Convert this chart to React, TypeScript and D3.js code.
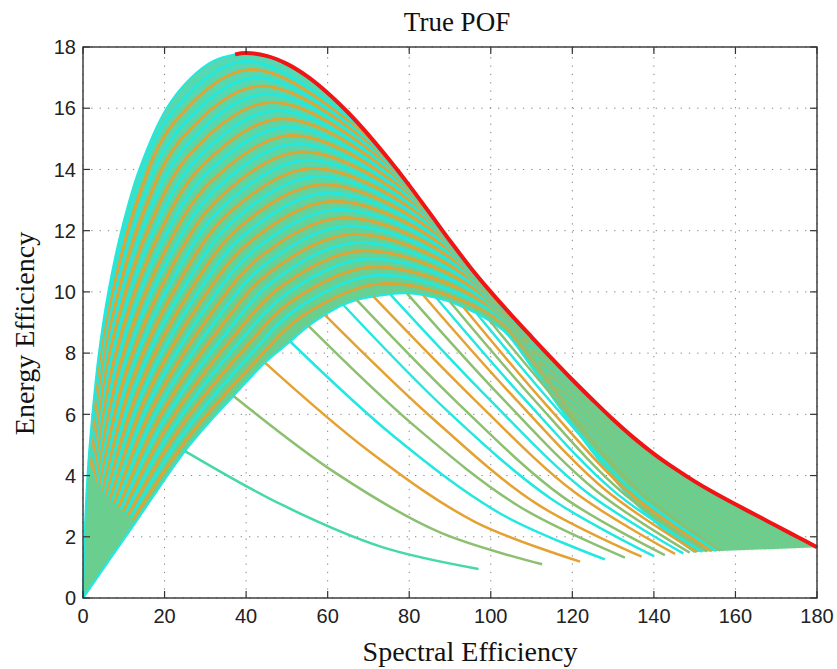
import React from "react";
import * as d3 from "d3";

// ---------- axes ----------
const xTicks = [0, 20, 40, 60, 80, 100, 120, 140, 160, 180];
const yTicks = [0, 2, 4, 6, 8, 10, 12, 14, 16, 18];

// ---------- outer (rising) boundary of the curve family ----------
const outerRiseX = [0, 0.4, 1.1, 2.3, 3.9, 6.2, 9.4, 13.8, 20.5, 26.5, 32.0];
const outerRiseY = [0, 2, 4, 6, 8, 10, 12, 14, 16, 17, 17.55];

// ---------- True POF (red front) ----------
const frontX = [37.3, 40, 45, 50, 55, 60, 65, 70, 75, 80, 85, 90, 95, 100, 105, 110, 115, 120, 125, 130, 135, 140, 145, 150, 155, 160, 165, 170, 175, 180];
const frontY = [17.76, 17.8, 17.71, 17.45, 17.04, 16.5, 15.86, 15.13, 14.33, 13.48, 12.58, 11.67, 10.8, 10.0, 9.25, 8.53, 7.82, 7.13, 6.47, 5.83, 5.24, 4.71, 4.24, 3.81, 3.42, 3.06, 2.71, 2.36, 2.01, 1.66];

// ---------- innermost curve (lower boundary of the dense band) ----------
const innerX = [0, 12.5, 25, 31, 36.9, 44.6, 50.8, 55.3, 59.3, 63.8, 67.1, 71.2, 75.3, 79.4, 83.4, 86.7, 90, 93.3, 96.5, 99.8, 104, 110.5, 117, 124.5, 133, 141.5, 150];
const innerY = [0, 2.4, 4.8, 5.75, 6.6, 7.69, 8.38, 8.89, 9.25, 9.58, 9.74, 9.85, 9.93, 9.96, 9.9, 9.8, 9.68, 9.5, 9.3, 9.05, 8.62, 7.45, 6.2, 4.85, 3.45, 2.35, 1.5];

// ---------- intermediate curves (estimated) ----------
const riseLevels = [0.25, 0.5, 0.75, 0.9];
const arcPeakX = [39.3, 40.6, 41.8, 43.1, 44.4, 45.7, 46.9, 48.2, 49.5, 50.8, 52.0, 53.3, 54.6, 55.9, 57.1, 58.4, 59.7, 61.0, 62.2, 63.5, 64.8, 66.1, 67.3, 68.6, 69.9, 71.2, 72.4, 73.7];
const arcPeakY = [17.53, 17.26, 16.99, 16.72, 16.46, 16.19, 15.92, 15.65, 15.38, 15.11, 14.84, 14.57, 14.30, 14.03, 13.77, 13.50, 13.23, 12.96, 12.69, 12.42, 12.15, 11.88, 11.61, 11.34, 11.08, 10.81, 10.54, 10.27];
const arcRise25 = [1.5, 1.6, 1.75, 1.9, 2.1, 2.3, 2.55, 2.8, 3.1, 3.4, 3.72, 4.08, 4.47, 4.88, 5.31, 5.76, 6.22, 6.70, 7.20, 7.71, 8.24, 8.78, 9.34, 9.92, 10.51, 11.11, 11.72, 12.36];
const arcRise50 = [5.1, 5.35, 5.65, 5.95, 6.3, 6.7, 7.2, 7.74, 8.35, 8.99, 9.67, 10.38, 11.11, 11.88, 12.67, 13.49, 14.34, 15.21, 16.11, 17.03, 17.97, 18.94, 19.93, 20.94, 21.97, 23.02, 24.09, 25.19];
const arcRise75 = [12.69, 13.27, 13.93, 14.68, 15.47, 16.32, 17.22, 18.15, 19.12, 20.12, 21.15, 22.21, 23.30, 24.41, 25.54, 26.70, 27.88, 29.08, 30.31, 31.55, 32.81, 34.09, 35.38, 36.70, 38.03, 39.37, 40.73, 42.11];
const arcRise90 = [21.36, 22.35, 23.38, 24.46, 25.56, 26.69, 27.83, 28.99, 30.16, 31.35, 32.55, 33.76, 34.98, 36.21, 37.45, 38.70, 39.95, 41.21, 42.48, 43.76, 45.04, 46.33, 47.62, 48.92, 50.23, 51.54, 52.85, 54.17];
const arcFall90 = [64.2, 65.5, 66.9, 68.2, 69.5, 70.8, 72.2, 73.5, 74.8, 76.1, 77.5, 78.8, 80.1, 81.4, 82.8, 84.1, 85.4, 86.7, 88.1, 89.4, 90.7, 92.0, 93.4, 94.7, 96.0, 97.3, 98.7, 100.0];
const arcFall75 = [81.0, 81.9, 82.8, 83.8, 84.9, 86.0, 87.1, 88.5, 89.6, 90.8, 91.9, 92.9, 94.0, 95.0, 96.0, 97.1, 98.1, 99.1, 100.2, 101.2, 102.2, 103.3, 104.3, 105.3, 106.4, 107.9, 109.2, 110.5];
const arcFall50 = [107.7, 108.3, 108.9, 109.4, 110.2, 111.0, 111.6, 112.2, 112.8, 113.4, 113.9, 114.5, 115.1, 115.7, 116.3, 116.9, 117.5, 118.1, 118.6, 119.2, 119.8, 120.4, 121.0, 121.6, 122.2, 123.2, 124.1, 124.9];
const arcFall25 = [142.3, 142.3, 142.3, 142.3, 142.3, 142.4, 142.5, 142.5, 142.5, 142.5, 142.4, 142.4, 142.3, 142.3, 142.2, 142.2, 142.1, 142.1, 142.0, 142.0, 141.9, 141.9, 141.8, 141.8, 141.7, 141.7, 141.6, 141.6];
const arcEndX = [179.0, 177.9, 176.9, 175.9, 174.8, 173.8, 172.8, 171.7, 170.7, 169.7, 168.6, 167.6, 166.6, 165.5, 164.5, 163.4, 162.4, 161.4, 160.3, 159.3, 158.3, 157.2, 156.2, 155.2, 154.1, 153.1, 152.1, 151.0];
const arcEndY = [1.64, 1.64, 1.63, 1.63, 1.62, 1.62, 1.61, 1.61, 1.60, 1.60, 1.59, 1.59, 1.58, 1.58, 1.57, 1.57, 1.56, 1.56, 1.55, 1.55, 1.54, 1.54, 1.53, 1.53, 1.52, 1.52, 1.51, 1.51];

// ---------- tails leaving the lower boundary ----------
const tailStartX = [25.0, 36.9, 44.6, 50.8, 55.3, 59.3, 63.8, 67.1, 71.2, 75.3, 79.4, 83.4, 86.7, 90.0, 93.3, 96.5, 99.8];
const tailStartY = [4.80, 6.60, 7.69, 8.38, 8.89, 9.25, 9.58, 9.74, 9.85, 9.93, 9.96, 9.90, 9.80, 9.68, 9.50, 9.30, 9.05];
const tailMid1X = [49.0, 62.1, 70.4, 76.5, 81.2, 85.2, 89.2, 92.3, 95.9, 99.3, 102.5, 105.8, 108.4, 111.0, 113.6, 116.1, 118.6];
const tailMid1Y = [3.03, 4.07, 4.77, 5.25, 5.63, 5.93, 6.13, 6.32, 6.49, 6.54, 6.57, 6.54, 6.48, 6.42, 6.31, 6.20, 6.07];
const tailMid2X = [73.0, 87.4, 96.1, 102.3, 107.0, 111.1, 114.6, 117.5, 120.5, 123.2, 125.7, 128.2, 130.1, 132.0, 133.9, 135.7, 137.5];
const tailMid2Y = [1.68, 2.15, 2.49, 2.76, 2.99, 3.09, 3.26, 3.32, 3.46, 3.49, 3.52, 3.52, 3.50, 3.48, 3.44, 3.40, 3.36];
const tailEndX = [97.0, 112.6, 121.9, 128.0, 132.9, 137.0, 140.0, 142.7, 145.2, 147.2, 148.8, 150.5, 151.8, 153.0, 154.2, 155.3, 156.3];
const tailEndY = [0.95, 1.10, 1.19, 1.26, 1.32, 1.35, 1.37, 1.40, 1.44, 1.46, 1.48, 1.50, 1.51, 1.52, 1.53, 1.54, 1.55];

type P = [number, number];
const zip = (xs: number[], ys: number[]): P[] => xs.map((v, i) => [v, ys[i]] as P);

export default function App() {
  const W = 837, H = 669;
  const L = 83, R = 817, T = 47, B = 598;
  const x = d3.scaleLinear().domain([0, 180]).range([L, R]);
  const y = d3.scaleLinear().domain([0, 18]).range([B, T]);
  const line = d3
    .line<P>()
    .x((d) => x(d[0]))
    .y((d) => y(d[1]))
    .curve(d3.curveCatmullRom.alpha(0.5));

  const CYAN = "#22e8e0";
  const ORANGE = "#e3a232";
  const OLIVE = "#8cc070";
  const TEAL = "#45d9a8";

  const outerPts: P[] = [...zip(outerRiseX, outerRiseY), ...zip(frontX, frontY)];
  const innerPts: P[] = zip(innerX, innerY);
  const fillPath =
    (line(outerPts) || "") + (line([...innerPts].reverse()) || "").replace(/^M/, "L") + "Z";

  const arcs: P[][] = arcPeakX.map((px, i) => {
    const py = arcPeakY[i];
    return [
      [arcRise25[i], riseLevels[0] * py],
      [arcRise50[i], riseLevels[1] * py],
      [arcRise75[i], riseLevels[2] * py],
      [arcRise90[i], riseLevels[3] * py],
      [px, py],
      [arcFall90[i], riseLevels[3] * py],
      [arcFall75[i], riseLevels[2] * py],
      [arcFall50[i], riseLevels[1] * py],
      [arcFall25[i], riseLevels[0] * py],
      [arcEndX[i], arcEndY[i]],
    ] as P[];
  });

  const tails: P[][] = tailStartX.map((sx, i) => [
    [sx, tailStartY[i]],
    [tailMid1X[i], tailMid1Y[i]],
    [tailMid2X[i], tailMid2Y[i]],
    [tailEndX[i], tailEndY[i]],
  ] as P[]);
  const tailCycle = [OLIVE, ORANGE, CYAN];

  const sans = "'Liberation Sans', Arial, Helvetica, sans-serif";
  const serif = "'Liberation Serif', 'Times New Roman', Times, serif";

  return (
    <svg
      width={W}
      height={H}
      viewBox={`0 0 ${W} ${H}`}
      style={{ position: "absolute", left: 0, top: 0, background: "#fff" }}
    >
      <defs>
        <linearGradient id="band" gradientUnits="userSpaceOnUse" x1={0} y1={y(17.5)} x2={0} y2={y(9)}>
          <stop offset="0" stopColor="#55d9b2" />
          <stop offset="1" stopColor="#6acf8e" />
        </linearGradient>
        <linearGradient id="fadeGrad" gradientUnits="userSpaceOnUse" x1={x(92)} y1={0} x2={x(150)} y2={0}>
          <stop offset="0" stopColor="#fff" />
          <stop offset="0.55" stopColor="#555" />
          <stop offset="1" stopColor="#2a2a2a" />
        </linearGradient>
        <mask id="fade" maskUnits="userSpaceOnUse" x={0} y={0} width={W} height={H}>
          <rect x={0} y={0} width={W} height={H} fill="url(#fadeGrad)" />
        </mask>
      </defs>
      <rect x={0} y={0} width={W} height={H} fill="#fff" />
      {/* grid */}
      <g stroke="#858585" strokeWidth={1} strokeDasharray="1.3 7">
        {xTicks.map((t) => (
          <line key={"gx" + t} x1={x(t)} x2={x(t)} y1={y(0)} y2={y(18)} />
        ))}
        {yTicks.map((t) => (
          <line key={"gy" + t} x1={x(0)} x2={x(180)} y1={y(t)} y2={y(t)} />
        ))}
      </g>

      {/* dense band */}
      <path d={fillPath} fill="url(#band)" stroke="none" />
      <g fill="none" strokeOpacity={0.95} mask="url(#fade)">
        {arcs.map((pts, i) => (
          <path
            key={"a" + i}
            d={line(pts) || ""}
            stroke={i % 2 === 0 ? CYAN : ORANGE}
            strokeWidth={i % 2 === 0 ? 3 : 3}
          />
        ))}
      </g>
      <path d={line(outerPts) || ""} fill="none" stroke={CYAN} strokeWidth={2} />
      <path d={line(innerPts) || ""} fill="none" stroke={CYAN} strokeWidth={2.2} />

      {/* tails */}
      <g fill="none" strokeWidth={2.5}>
        {tails.map((pts, i) => (
          <path
            key={"t" + i}
            d={line(pts) || ""}
            stroke={i === 0 ? TEAL : tailCycle[(i - 1) % 3]}
          />
        ))}
      </g>

      {/* True POF */}
      <path d={line(zip(frontX, frontY)) || ""} fill="none" stroke="#f01414" strokeWidth={4} />

      {/* box + ticks */}
      <rect x={L} y={T} width={R - L} height={B - T} fill="none" stroke="#333" strokeWidth={1.4} />
      <g stroke="#333" strokeWidth={1.2}>
        {xTicks.map((t) => (
          <g key={"tx" + t}>
            <line x1={x(t)} x2={x(t)} y1={B} y2={B - 7} />
            <line x1={x(t)} x2={x(t)} y1={T} y2={T + 7} />
          </g>
        ))}
        {yTicks.map((t) => (
          <g key={"ty" + t}>
            <line x1={L} x2={L + 7} y1={y(t)} y2={y(t)} />
            <line x1={R} x2={R - 7} y1={y(t)} y2={y(t)} />
          </g>
        ))}
      </g>

      {/* tick labels */}
      <g fontFamily={sans} fontSize={20} fill="#222">
        {xTicks.map((t) => (
          <text key={"lx" + t} x={x(t)} y={623} textAnchor="middle">
            {t}
          </text>
        ))}
        {yTicks.map((t) => (
          <text key={"ly" + t} x={76} y={y(t)} dy="0.36em" textAnchor="end">
            {t}
          </text>
        ))}
      </g>

      {/* titles */}
      <text x={457} y={31} textAnchor="middle" fontFamily={serif} fontSize={27} fill="#111">
        True POF
      </text>
      <text x={470} y={661} textAnchor="middle" fontFamily={serif} fontSize={28} fill="#111">
        Spectral Efficiency
      </text>
      <text
        transform={`translate(33.5,333.5) rotate(-90)`}
        textAnchor="middle"
        fontFamily={serif}
        fontSize={28}
        fill="#111"
      >
        Energy Efficiency
      </text>
    </svg>
  );
}
